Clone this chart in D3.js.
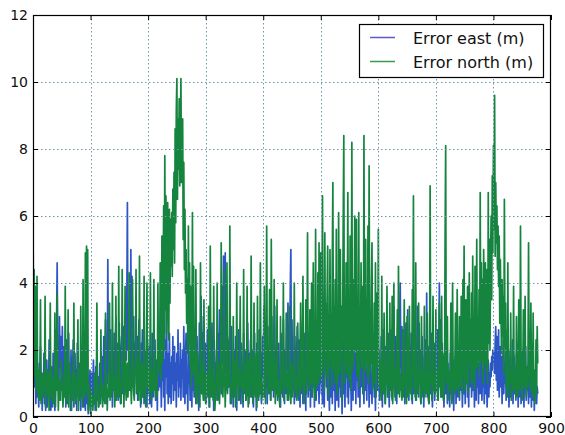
<!DOCTYPE html>
<html>
<head>
<meta charset="utf-8">
<script src="https://cdn.jsdelivr.net/npm/d3@7"></script>
<style>
  body { margin: 0; background: #fff; }
  svg { display: block; font-family: "DejaVu Sans", sans-serif; }
</style>
</head>
<body>
<div id="chart"></div>
<script>
const WIDTH = 565;
const HEIGHT = 435;
const MARGIN = { top: 15, left: 33, right: 14, bottom: 18 };

const X_TICKS = [0, 100, 200, 300, 400, 500, 600, 700, 800, 900];
const Y_TICKS = [0, 2, 4, 6, 8, 10, 12];
const SERIES_NAMES = ["Error east (m)", "Error north (m)"];

// error east, one sample per index
const errorEast = [
  2.0,1.5,2.4,0.9,1.8,0.4,1.2,2.2,0.6,1.0,0.3,1.6,0.8,2.1,0.5,1.3,0.2,1.1,0.7,1.9,
  0.4,1.2,0.2,0.9,1.7,0.3,1.4,0.6,2.3,0.5,1.0,0.2,1.5,0.8,0.3,1.9,0.6,1.1,0.2,2.6,
  1.4,2.9,4.6,1.1,2.2,0.6,3.0,1.5,2.4,0.8,1.8,2.7,0.5,1.3,2.1,0.9,1.6,0.3,2.3,1.0,
  0.4,1.7,2.5,0.7,1.3,0.2,2.0,1.1,0.5,1.6,2.3,0.3,1.0,1.9,0.6,1.4,0.2,2.2,0.8,1.2,
  0.5,1.6,0.9,0.2,1.3,2.0,0.6,1.1,0.3,1.8,0.7,0.2,1.5,0.9,0.4,1.2,0.1,0.8,0.5,1.4,
  0.2,0.6,1.3,0.3,0.9,1.7,0.4,1.1,0.2,1.5,0.7,1.9,0.5,1.2,0.3,0.8,1.6,0.4,1.0,0.6,
  1.8,0.5,1.2,2.4,0.7,1.5,2.9,0.4,1.9,1.0,4.7,1.3,2.2,0.6,1.7,2.6,0.9,1.4,0.3,2.0,
  1.1,2.5,0.6,1.8,3.0,0.9,1.4,2.2,0.5,1.6,2.8,1.0,0.4,1.9,2.4,0.7,1.3,2.7,1.5,2.1,
  0.8,2.6,1.7,3.4,6.4,2.0,3.1,1.2,2.5,0.9,5.0,1.6,4.2,2.3,1.1,3.0,0.7,2.2,1.4,2.8,
  1.0,2.4,0.5,1.8,2.9,0.8,1.5,0.3,2.2,1.2,2.6,0.6,1.7,0.4,1.1,2.0,0.9,1.6,0.3,2.3,
  0.7,1.3,2.1,0.4,1.8,1.0,0.3,2.5,1.4,0.6,1.9,0.9,2.3,0.5,1.2,1.7,0.2,2.0,0.8,1.5,
  2.6,0.9,1.4,0.3,2.0,1.1,2.8,0.6,1.7,0.2,2.3,1.2,4.2,0.7,1.9,0.4,1.3,2.5,0.6,1.6,
  0.4,1.8,1.0,2.4,0.5,1.3,2.1,0.8,1.6,0.3,1.9,1.1,2.6,0.6,1.4,0.9,2.2,0.5,1.7,1.2,
  2.0,0.6,2.7,1.1,0.4,1.8,2.5,0.7,1.3,0.2,2.2,1.0,1.6,0.5,2.6,1.2,0.3,1.9,0.8,1.4,
  0.6,2.1,1.3,0.4,1.7,2.4,0.9,1.5,0.2,2.8,1.1,1.9,3.6,0.7,2.5,1.4,3.0,0.5,1.8,1.0,
  2.2,0.4,1.4,2.6,0.8,1.7,0.3,2.1,1.2,0.6,1.9,2.8,0.9,1.5,0.2,2.3,1.0,1.6,0.5,2.0,
  1.1,2.5,0.6,1.8,3.2,1.4,2.2,0.7,3.9,1.6,2.9,4.8,1.9,2.7,4.9,1.3,3.1,0.8,2.4,1.5,
  0.9,2.3,1.4,0.4,1.9,2.7,0.6,1.2,0.3,2.0,1.6,0.8,2.4,1.0,0.2,1.7,1.3,2.6,0.5,1.1,
  1.8,0.4,2.2,1.0,1.5,0.3,2.5,0.7,1.3,2.0,0.5,1.7,0.9,2.8,1.2,0.4,1.9,0.8,2.3,1.4,
  0.6,2.0,1.1,0.3,1.6,2.5,0.8,1.4,0.2,2.2,1.0,1.8,0.5,2.6,1.3,0.7,1.9,0.4,1.5,2.4,
  1.2,3.3,0.6,1.7,0.9,2.3,1.4,0.4,2.7,1.1,0.7,1.9,2.4,0.5,1.6,3.0,1.0,2.1,0.6,1.3,
  3.3,0.8,1.9,1.3,2.6,0.5,1.6,2.2,0.9,1.4,0.3,2.5,1.1,1.8,0.6,2.9,1.2,0.4,2.0,1.5,
  0.7,2.2,1.4,3.4,0.9,2.6,1.7,3.8,5.0,1.2,2.9,0.8,2.0,1.5,0.4,2.4,1.1,0.6,1.8,2.7,
  1.0,0.5,2.3,1.6,0.3,2.8,1.2,0.7,1.9,0.4,1.5,2.5,0.9,1.3,0.2,2.1,1.0,1.7,0.6,2.4,
  0.8,1.4,0.3,2.0,1.1,0.6,2.6,0.9,1.6,0.3,2.2,1.3,0.5,1.8,0.8,2.4,1.2,0.4,1.9,1.0,
  2.3,0.7,1.5,0.4,2.0,1.1,0.3,1.7,2.6,3.4,0.9,1.3,0.5,2.2,1.0,0.2,1.8,1.4,0.6,2.1,
  0.4,1.2,2.4,0.8,1.6,0.2,1.9,1.0,0.5,2.2,1.3,0.3,1.7,0.9,2.0,0.6,1.4,0.1,1.1,2.3,
  0.7,1.5,0.3,2.0,1.2,2.7,0.6,1.8,0.4,1.3,2.4,0.9,1.6,0.2,2.1,1.0,0.5,2.8,1.4,0.8,
  1.9,0.4,3.0,1.1,1.7,0.6,2.3,1.3,0.3,2.0,0.9,1.5,2.6,0.7,1.2,0.4,1.8,2.2,0.8,1.4,
  0.5,2.0,1.0,1.6,0.3,1.3,2.2,0.7,1.1,0.4,1.8,0.9,2.4,0.6,1.4,0.2,1.7,1.0,2.1,0.8,
  1.3,2.0,0.5,1.6,0.9,2.4,1.2,0.3,1.8,2.6,0.7,1.4,0.4,2.1,1.0,1.7,0.6,2.5,1.1,0.3,
  1.9,0.8,2.6,1.3,0.5,2.2,1.0,3.3,1.6,0.6,2.4,1.2,0.4,2.0,2.9,1.4,0.7,2.6,4.0,1.8,
  1.0,2.7,0.6,1.9,1.3,2.3,0.4,1.6,2.8,0.9,1.4,3.2,1.1,0.5,2.1,1.7,0.8,2.5,1.2,0.4,
  1.6,2.2,0.7,1.3,2.7,0.5,1.9,1.0,3.3,1.4,0.6,2.8,1.1,2.0,0.4,1.5,2.4,0.8,1.2,0.3,
  1.8,0.9,2.3,1.3,3.7,0.6,1.5,2.1,0.4,1.1,1.9,0.7,2.5,1.2,0.3,1.6,0.9,2.2,0.5,1.4,
  2.0,0.8,1.3,2.6,0.5,1.7,4.0,1.1,2.9,0.6,1.4,2.2,0.9,1.8,0.3,1.2,2.4,0.7,1.5,1.0,
  0.4,1.6,0.9,1.2,0.3,1.9,0.7,1.4,0.5,1.0,1.7,0.2,1.3,0.8,1.8,0.4,1.1,0.6,1.5,0.9,
  1.9,0.5,1.3,2.3,0.8,1.6,0.3,1.1,2.5,0.7,1.4,0.4,1.8,1.0,2.1,0.6,1.2,0.3,1.7,0.9,
  1.4,2.0,0.6,1.1,2.8,0.8,1.5,0.3,1.9,1.2,0.5,2.2,0.9,1.6,0.4,1.3,2.4,0.7,1.0,1.8,
  0.5,1.4,0.9,1.9,0.4,1.2,2.1,0.7,1.5,0.3,1.0,1.7,0.6,1.3,0.9,1.6,1.2,1.8,1.4,2.0,
  1.6,1.9,1.3,2.2,2.7,1.1,2.4,0.8,1.7,2.6,0.6,1.5,2.1,0.9,1.8,0.4,1.3,2.3,0.7,1.6,
  1.0,2.2,0.5,1.4,2.6,0.8,1.7,0.3,1.2,2.0,0.6,1.5,0.9,2.3,0.4,1.1,1.8,0.7,1.3,0.5,
  1.9,0.8,1.4,0.3,2.2,1.0,0.6,1.7,0.4,1.3,2.0,0.7,1.1,0.3,1.6,0.9,2.1,0.5,1.2,0.8,
  1.5,0.4,1.0,1.8,0.6,1.3,0.3,1.6,0.9,0.5,1.4,0.2,1.1,0.7,1.5,0.4,0.9,0.7
];

// error north, one sample per index
const errorNorth = [
  6.4,2.1,4.4,1.2,3.9,0.8,1.6,4.2,1.0,0.6,1.4,0.5,0.9,3.5,0.4,1.2,0.7,1.3,0.6,1.1,
  0.9,3.6,0.3,1.0,0.7,1.4,0.6,1.3,0.2,0.9,3.4,0.6,1.5,1.0,0.5,0.4,1.2,0.8,3.1,0.3,
  1.1,0.8,3.7,1.5,0.2,0.9,1.1,0.5,0.5,1.7,0.9,1.3,0.3,0.7,1.0,0.6,3.9,1.2,0.4,1.0,
  0.5,3.2,0.3,1.0,1.6,0.7,0.8,0.2,1.2,1.3,0.5,3.4,0.9,1.3,0.4,0.6,1.1,0.6,2.9,0.2,
  1.4,0.7,0.5,3.3,0.9,1.2,0.3,4.1,0.6,1.0,0.6,4.9,0.8,5.1,0.7,5.0,0.2,1.0,0.4,0.6,
  0.1,0.8,0.3,0.6,0.2,0.6,0.5,1.3,0.4,0.9,0.2,3.4,0.7,1.0,0.3,0.6,0.5,0.4,2.6,0.6,
  1.1,0.3,0.7,0.9,0.6,0.4,3.1,0.7,1.3,0.2,0.8,0.6,1.0,3.4,0.5,1.2,0.6,0.8,4.0,0.9,
  0.8,1.2,0.3,1.1,3.6,0.5,1.2,1.0,0.6,4.5,0.6,1.1,0.8,0.4,1.3,4.4,0.9,1.6,0.3,1.4,
  3.9,0.9,0.5,1.3,1.6,0.6,1.4,4.3,0.8,1.2,0.9,0.4,1.9,4.1,1.0,0.7,0.5,1.5,1.4,4.4,
  0.7,1.8,1.2,0.9,0.5,4.8,1.2,0.9,0.4,1.6,1.1,0.6,1.1,4.2,1.1,0.6,0.3,1.4,4.0,0.9,
  1.2,1.5,0.7,1.3,4.3,0.8,0.5,1.4,1.2,0.8,4.1,0.8,1.9,0.6,1.2,0.6,1.3,4.0,1.3,2.0,
  1.4,4.6,1.1,2.4,5.4,1.6,3.8,6.3,2.0,7.8,3.2,6.6,2.5,4.7,6.4,3.1,2.3,6.2,3.4,5.9,
  4.5,6.1,4.2,6.8,5.0,7.3,4.6,8.6,5.8,9.2,10.1,6.5,8.9,7.4,9.5,6.9,8.3,10.1,7.0,8.0,
  8.9,5.3,7.6,4.4,6.2,3.7,5.0,2.8,4.1,1.9,5.7,2.2,4.6,1.5,3.9,0.9,1.7,6.1,1.3,4.5,
  1.2,1.4,0.6,4.4,0.8,0.4,1.9,1.0,1.0,1.2,0.3,4.6,1.4,0.7,1.6,0.8,0.5,3.5,0.9,1.0,
  0.4,1.3,1.1,0.7,0.6,3.3,1.2,0.3,5.1,1.5,0.8,0.6,1.4,0.5,3.9,1.3,0.2,0.7,1.1,0.9,
  4.0,0.5,1.1,1.6,0.4,0.9,1.3,5.2,1.1,0.7,0.6,1.5,4.4,1.3,0.3,1.1,0.8,4.6,0.7,1.3,
  0.9,1.5,5.7,1.4,0.6,0.4,1.0,1.1,3.0,0.6,1.2,1.7,0.3,0.8,4.0,1.0,1.4,0.5,0.9,1.5,
  3.6,0.9,1.3,0.7,0.4,1.0,4.4,0.8,1.1,1.6,0.5,0.7,3.9,1.2,0.3,0.7,1.8,1.0,0.6,4.8,
  1.0,1.2,0.4,1.1,3.4,0.8,0.6,1.3,1.9,0.3,3.6,1.2,0.6,0.7,1.0,4.6,1.4,0.5,1.0,0.8,
  0.6,1.7,3.9,1.2,0.4,1.3,5.7,1.6,1.4,0.7,1.1,3.8,0.9,0.5,5.3,1.9,0.8,0.8,1.2,4.1,
  1.3,0.4,1.6,0.7,3.5,0.6,1.1,1.0,0.5,0.3,3.0,0.7,0.8,1.4,1.4,4.0,0.5,1.3,1.2,0.9,
  3.1,1.4,0.5,1.3,0.5,1.0,3.3,0.9,0.4,1.6,0.8,0.6,1.5,1.3,4.0,0.8,1.2,0.9,0.5,0.7,
  2.8,1.0,1.4,0.6,1.1,3.4,0.8,0.9,1.6,4.2,1.2,0.4,1.3,1.0,3.5,0.7,1.9,5.5,1.3,1.2,
  0.8,3.2,1.0,1.5,4.0,0.6,1.4,4.6,1.2,1.0,0.5,5.6,1.0,1.3,0.9,4.3,1.2,5.2,1.0,3.8,
  4.9,1.2,2.4,6.6,1.4,3.2,0.8,5.5,1.9,2.7,1.2,3.6,5.1,0.6,2.4,1.5,5.0,1.7,2.9,0.9,
  4.6,7.0,1.4,3.3,1.0,4.1,1.2,5.6,0.7,2.8,1.1,6.1,2.5,1.3,5.0,1.7,3.3,0.5,2.8,5.9,
  8.4,1.0,3.2,1.6,4.6,1.3,2.8,6.7,1.1,3.0,1.1,5.4,0.8,2.5,8.2,1.6,4.1,1.4,2.7,6.0,
  2.0,3.9,5.9,1.2,2.3,1.3,6.1,0.9,3.0,1.8,4.6,1.5,2.5,3.9,0.7,8.4,2.1,1.4,5.3,1.6,
  3.5,1.2,5.7,1.0,7.5,1.3,2.8,1.6,3.9,5.2,0.8,2.0,1.0,3.4,1.1,4.6,0.6,1.9,3.7,1.5,
  5.6,0.9,1.7,1.4,0.8,0.5,4.2,0.8,1.4,0.7,3.1,1.2,0.4,1.0,1.3,3.9,1.2,0.6,1.0,1.5,
  3.4,0.8,1.3,0.6,3.6,0.4,1.1,4.0,0.9,1.5,0.5,1.2,1.4,3.2,0.7,4.5,1.9,0.6,1.3,0.8,
  1.2,0.5,2.6,0.6,1.0,3.5,1.0,1.1,0.6,0.4,3.0,1.7,0.6,1.0,3.3,1.2,0.7,1.4,0.5,3.8,
  1.3,6.6,0.9,1.8,0.6,4.6,0.5,1.3,1.2,0.7,3.4,1.0,1.4,0.6,0.4,3.0,0.6,1.3,0.8,0.9,
  3.3,0.6,1.2,1.3,0.7,3.1,1.0,0.5,0.4,1.6,6.9,1.0,1.3,0.5,0.8,3.6,0.8,1.2,1.0,0.7,
  3.2,1.1,1.4,0.6,0.5,1.7,3.4,0.9,1.0,0.6,3.6,0.6,1.9,0.5,1.3,0.8,5.3,8.1,1.3,1.0,
  3.0,0.5,1.4,1.2,0.9,0.8,3.4,0.6,0.4,4.0,1.3,1.0,0.7,1.6,3.1,0.8,0.9,3.8,1.4,1.0,
  0.6,3.0,1.5,0.9,3.6,1.3,0.7,4.1,1.2,5.1,0.8,1.5,3.5,1.4,1.0,3.9,0.7,1.8,4.3,1.6,
  2.9,1.1,3.7,1.0,4.8,1.9,1.3,0.8,4.5,1.4,2.6,5.3,1.5,2.2,1.7,3.8,1.2,6.7,1.6,4.6,
  1.7,4.1,1.0,5.0,2.2,1.6,4.6,1.4,2.6,4.4,1.0,6.7,2.2,5.3,2.0,4.7,6.0,3.5,7.2,4.9,
  8.1,5.6,9.6,4.8,7.0,5.2,6.3,4.4,5.7,3.9,5.4,2.8,4.7,3.3,1.9,4.1,2.4,3.6,1.3,6.5,
  2.1,3.4,0.9,1.7,0.6,4.6,0.7,1.3,1.0,1.2,3.1,0.5,1.3,0.8,1.0,3.9,0.8,1.4,1.5,0.6,
  3.0,1.2,0.6,1.1,3.5,0.9,0.8,5.7,1.9,1.0,0.5,1.2,3.2,1.2,0.9,3.6,1.1,0.6,1.5,0.9,
  1.6,5.2,1.3,1.0,0.8,3.4,1.5,0.7,0.6,3.1,1.0,1.4,0.4,0.8,2.3,0.7,2.7,1.6
];

const SERIES_COLORS = ["#2c55c6", "#15843f"];
const LEGEND_COLORS = ["#5a5ad0", "#3a9a4a"];

const svg = d3.select("#chart").append("svg")
  .attr("width", WIDTH)
  .attr("height", HEIGHT)
  .style("background-color", "#fff");

const x = d3.scaleLinear()
  .domain([0, 900])
  .range([MARGIN.left, WIDTH - MARGIN.right]);

const y = d3.scaleLinear()
  .domain([0, 12])
  .range([HEIGHT - MARGIN.bottom, MARGIN.top]);

// clip so nothing spills past the spines
svg.append("clipPath").attr("id", "plotclip")
  .append("rect")
    .attr("x", MARGIN.left)
    .attr("y", MARGIN.top)
    .attr("width", WIDTH - MARGIN.left - MARGIN.right)
    .attr("height", HEIGHT - MARGIN.top - MARGIN.bottom);

const lines = svg.append("g").attr("clip-path", "url(#plotclip)");

const line = d3.line()
  .x((d, i) => x(i))
  .y((d) => y(d));

[errorEast, errorNorth].forEach((series, k) => {
  lines.append("path")
    .datum(series)
    .attr("d", line)
    .attr("fill", "none")
    .attr("stroke", SERIES_COLORS[k])
    .attr("stroke-width", 1.7)
    .attr("stroke-linejoin", "round");
});

// dotted grid, drawn above the lines like matplotlib classic
const grid = svg.append("g")
  .attr("stroke", "#6f97aa")
  .attr("stroke-width", 1)
  .attr("stroke-dasharray", "1.5,2.5");

grid.selectAll("line.vx")
  .data(X_TICKS.slice(1, -1))
  .join("line")
    .attr("class", "vx")
    .attr("x1", (d) => Math.round(x(d)) + 0.5)
    .attr("x2", (d) => Math.round(x(d)) + 0.5)
    .attr("y1", MARGIN.top)
    .attr("y2", HEIGHT - MARGIN.bottom);

grid.selectAll("line.hy")
  .data(Y_TICKS.slice(1, -1))
  .join("line")
    .attr("class", "hy")
    .attr("x1", MARGIN.left)
    .attr("x2", WIDTH - MARGIN.right)
    .attr("y1", (d) => Math.round(y(d)) + 0.5)
    .attr("y2", (d) => Math.round(y(d)) + 0.5);

// axes: inward ticks on all four sides, labels only bottom/left
const styleAxis = (g) => {
  g.select(".domain").remove();
  g.selectAll(".tick line").attr("stroke", "#000");
  g.selectAll("text")
    .attr("font-size", 14)
    .attr("font-family", "DejaVu Sans, sans-serif")
    .attr("fill", "#111");
};

svg.append("g")
  .attr("transform", `translate(0, ${HEIGHT - MARGIN.bottom})`)
  .call(d3.axisBottom(x).tickValues(X_TICKS).tickSize(-5).tickPadding(6).tickFormat(d3.format("d")))
  .call(styleAxis);

svg.append("g")
  .attr("transform", `translate(${MARGIN.left}, 0)`)
  .call(d3.axisLeft(y).tickValues(Y_TICKS).tickSize(-5).tickPadding(5).tickFormat(d3.format("d")))
  .call(styleAxis);

svg.append("g")
  .attr("transform", `translate(0, ${MARGIN.top})`)
  .call(d3.axisTop(x).tickValues(X_TICKS).tickSize(-5).tickFormat(""))
  .call(styleAxis);

svg.append("g")
  .attr("transform", `translate(${WIDTH - MARGIN.right}, 0)`)
  .call(d3.axisRight(y).tickValues(Y_TICKS).tickSize(-5).tickFormat(""))
  .call(styleAxis);

svg.append("rect")
  .attr("x", MARGIN.left + 0.5)
  .attr("y", MARGIN.top + 0.5)
  .attr("width", WIDTH - MARGIN.left - MARGIN.right - 1)
  .attr("height", HEIGHT - MARGIN.top - MARGIN.bottom - 1)
  .attr("fill", "none")
  .attr("stroke", "#000")
  .attr("stroke-width", 1.2);

// legend
const leyenda = svg.append("g")
  .attr("transform", "translate(359, 24)");

leyenda.append("rect")
  .attr("x", 0.5)
  .attr("y", 0.5)
  .attr("width", 184)
  .attr("height", 53)
  .attr("fill", "#fff")
  .attr("stroke", "#000")
  .attr("stroke-width", 1.2);

leyenda.selectAll("line")
  .data(SERIES_NAMES)
  .join("line")
    .attr("x1", 11)
    .attr("x2", 36)
    .attr("y1", (d, i) => 13.5 + i * 24)
    .attr("y2", (d, i) => 13.5 + i * 24)
    .attr("stroke", (d, i) => LEGEND_COLORS[i])
    .attr("stroke-width", 1.5);

leyenda.selectAll("text")
  .data(SERIES_NAMES)
  .join("text")
    .attr("x", 54)
    .attr("y", (d, i) => 20 + i * 24)
    .attr("font-size", 16)
    .attr("font-family", "DejaVu Sans, sans-serif")
    .attr("fill", "#111")
    .text((d) => d);
</script>
</body>
</html>
